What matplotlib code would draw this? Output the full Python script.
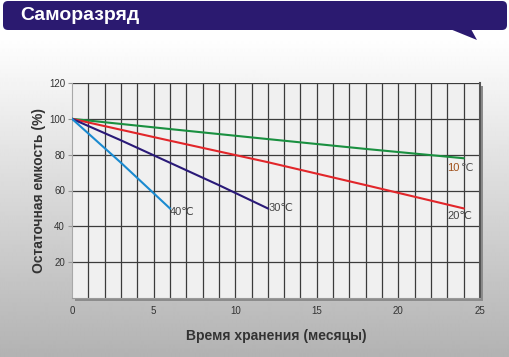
import numpy as np
import matplotlib.pyplot as plt
from matplotlib.patches import Rectangle, FancyBboxPatch, Polygon

plt.rcParams['font.family'] = ['Liberation Sans', 'DejaVu Sans']

# data
months_40 = [0, 3, 6]
cap_40 = [100, 75.5, 50]
months_30 = [0, 3, 6, 9, 12]
cap_30 = [100, 88, 75.5, 63, 50]
months_20 = [0, 6, 12, 18, 24]
cap_20 = [100, 87.8, 75.8, 63, 50]
months_10 = [0, 6, 12, 18, 24]
cap_10 = [100, 94.3, 88.7, 83.2, 78]

x_ticks = [0, 5, 10, 15, 20, 25]
y_ticks = [20, 40, 60, 80, 100, 120]

W, H = 510, 357
fig = plt.figure(figsize=(W / 100, H / 100), dpi=100)

def fx(px):
    return px / W

def fy(py):
    return 1 - py / H

# background gradient
bg = fig.add_axes([0, 0, 1, 1], zorder=0)
bg.set_xlim(0, W)
bg.set_ylim(H, 0)
bg.axis('off')
rows = np.ones(H)
start = 36
rows[start:] = np.linspace(1.0, 0.70, H - start)
bg.imshow(np.tile(rows[:, None], (1, 2)), cmap='gray', vmin=0, vmax=1,
          extent=[0, W, H, 0], aspect='auto', interpolation='bilinear')

# banner
bg.add_patch(FancyBboxPatch((3, 1), 504, 29, boxstyle='round,pad=0,rounding_size=5',
                            fc='#2b1a70', ec='none'))
bg.add_patch(Polygon([(450, 29), (477, 40), (471, 29)], closed=True, fc='#2b1a70', ec='none'))
bg.text(20, 15, 'Саморазряд', color='white', fontsize=14, fontweight='bold',
        va='center', ha='left')

# plot frame shadow
L, R, T, B = 72, 480, 83, 298
bg.add_patch(Rectangle((L + 3, T + 3), R - L, B - T, fc='#8c8c8c', ec='none'))

ax = fig.add_axes([fx(L), fy(B), fx(R - L), (B - T) / H], zorder=1)
ax.set_facecolor('#f0f0f0')
ax.set_xlim(0, 25)
ax.set_ylim(0, 120)

for m in range(1, 25):
    ax.axvline(m, color='#3c3c3c', lw=0.9, zorder=1)
for v in y_ticks:
    ax.axhline(v, color='#3c3c3c', lw=0.9, zorder=1)

ax.plot(months_10, cap_10, color='#1a9040', lw=1.5, zorder=3)
ax.plot(months_20, cap_20, color='#e2262a', lw=1.5, zorder=3)
ax.plot(months_30, cap_30, color='#2a1a78', lw=1.5, zorder=3)
ax.plot(months_40, cap_40, color='#1a8ad0', lw=1.5, zorder=3)

lab = dict(fontsize=8, va='center', zorder=4)
ax.text(months_40[-1] + 0.02, cap_40[-1] - 2, '40℃', color='#444444', ha='left', **lab)
ax.text(months_30[-1] + 0.05, cap_30[-1], '30℃', color='#444444', ha='left', **lab)
ax.text(23.0, 72.5, '10', color='#a0501a', ha='left', **lab)
ax.text(23.85, 72.5, '℃', color='#555555', ha='left', **lab)
ax.text(23.0, 45.5, '20℃', color='#444444', ha='left', **lab)

ax.set_xticks(x_ticks)
ax.set_yticks(y_ticks)
ax.tick_params(labelsize=7, labelcolor='#333333')
ax.tick_params(axis='x', length=0, pad=6)
ax.tick_params(axis='y', length=3, color='#999999', pad=2)

ax.spines['top'].set_visible(False)
ax.spines['left'].set_color('#a8a8a8')
ax.spines['bottom'].set_color('#9a9a9a')
ax.spines['right'].set_color('#555555')
ax.spines['right'].set_linewidth(1.5)

ax.set_xlabel('Время хранения (месяцы)', fontsize=10, fontweight='bold',
              color='#333333', labelpad=9)
ax.set_ylabel('Остаточная емкость (%)', fontsize=10, fontweight='bold',
              color='#333333', labelpad=2)

fig.savefig('out.png', dpi=100)
